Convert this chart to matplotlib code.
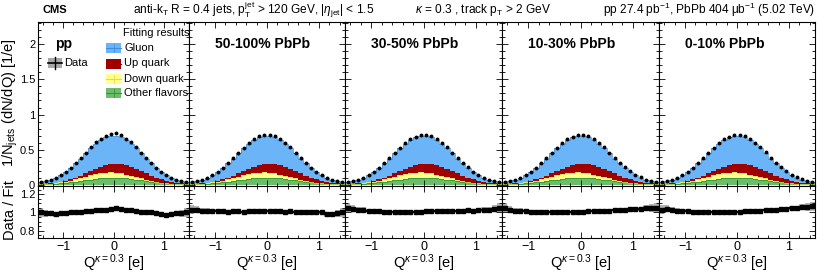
import matplotlib
matplotlib.use("Agg")
import matplotlib.pyplot as plt
import numpy as np
from matplotlib.patches import Rectangle
from matplotlib.lines import Line2D
from matplotlib.ticker import MultipleLocator, FixedLocator

plt.rcParams['font.family'] = ['Liberation Sans', 'DejaVu Sans']
plt.rcParams['mathtext.fontset'] = 'custom'
plt.rcParams['mathtext.rm'] = 'Liberation Sans'
plt.rcParams['mathtext.it'] = 'Liberation Sans:italic'
plt.rcParams['mathtext.bf'] = 'Liberation Sans:bold'

# ---------------- data ----------------
bin_edges = [-1.5, -1.4, -1.3, -1.2, -1.1, -1.0, -0.9, -0.8, -0.7, -0.6, -0.5,
             -0.4, -0.3, -0.2, -0.1, 0.0, 0.1, 0.2, 0.3, 0.4, 0.5,
             0.6, 0.7, 0.8, 0.9, 1.0, 1.1, 1.2, 1.3, 1.4, 1.5]

other_flavors = [0.003, 0.005, 0.008, 0.011, 0.016, 0.022, 0.030, 0.039, 0.050, 0.061,
                 0.072, 0.082, 0.090, 0.096, 0.100, 0.100, 0.096, 0.090, 0.082, 0.072,
                 0.061, 0.050, 0.039, 0.030, 0.022, 0.016, 0.011, 0.008, 0.005, 0.003]
down_quark = [0.003, 0.004, 0.007, 0.010, 0.015, 0.021, 0.028, 0.037, 0.045, 0.054,
              0.063, 0.069, 0.074, 0.075, 0.074, 0.069, 0.063, 0.054, 0.045, 0.037,
              0.028, 0.021, 0.015, 0.010, 0.007, 0.004, 0.003, 0.002, 0.001, 0.001]
up_quark = [0.001, 0.001, 0.002, 0.004, 0.006, 0.010, 0.015, 0.022, 0.032, 0.044,
            0.058, 0.074, 0.090, 0.106, 0.119, 0.129, 0.134, 0.134, 0.129, 0.119,
            0.106, 0.090, 0.074, 0.058, 0.044, 0.032, 0.022, 0.015, 0.010, 0.006]
gluon = [0.024, 0.037, 0.052, 0.073, 0.099, 0.130, 0.166, 0.205, 0.245, 0.288,
         0.327, 0.359, 0.384, 0.400, 0.404, 0.399, 0.384, 0.360, 0.328, 0.292,
         0.252, 0.211, 0.175, 0.141, 0.110, 0.084, 0.062, 0.044, 0.031, 0.021]

panel_labels = ["pp", "50-100% PbPb", "30-50% PbPb", "10-30% PbPb", "0-10% PbPb"]

ratio_pp = [1.00, 0.99, 0.99, 0.98, 0.99, 0.99, 1.00, 1.00, 1.01, 1.02,
            1.02, 1.03, 1.03, 1.03, 1.04, 1.05, 1.04, 1.03, 1.03, 1.02,
            1.01, 1.01, 1.00, 0.99, 0.98, 0.97, 0.98, 0.99, 0.99, 1.00]
ratio_50_100 = [1.03, 1.03, 1.02, 1.02, 1.02, 1.02, 1.02, 1.01, 1.02, 1.02,
                1.01, 1.02, 1.02, 1.02, 1.02, 1.02, 1.02, 1.02, 1.01, 1.02,
                1.01, 1.01, 1.01, 1.01, 1.00, 1.00, 0.98, 0.98, 0.99, 1.00]
ratio_30_50 = [1.05, 1.04, 1.03, 1.03, 1.02, 1.02, 1.02, 1.01, 1.01, 1.01,
               1.01, 1.01, 1.01, 1.01, 1.01, 1.02, 1.02, 1.02, 1.02, 1.02,
               1.02, 1.02, 1.02, 1.03, 1.02, 1.03, 1.03, 1.03, 1.04, 1.05]
ratio_10_30 = [1.05, 1.03, 1.02, 1.02, 1.02, 1.01, 1.01, 1.01, 1.01, 1.01,
               1.01, 1.01, 1.01, 1.01, 1.01, 1.01, 1.02, 1.02, 1.02, 1.02,
               1.02, 1.03, 1.03, 1.03, 1.04, 1.04, 1.04, 1.05, 1.05, 1.05]
ratio_0_10 = [1.03, 1.04, 1.03, 1.02, 1.02, 1.02, 1.01, 1.01, 1.01, 1.01,
              1.01, 1.01, 1.01, 1.01, 1.01, 1.01, 1.02, 1.02, 1.02, 1.02,
              1.03, 1.03, 1.03, 1.04, 1.04, 1.05, 1.05, 1.06, 1.06, 1.07]
ratios = [ratio_pp, ratio_50_100, ratio_30_50, ratio_10_30, ratio_0_10]

ratio_syst = [0.05, 0.04, 0.03, 0.025, 0.02, 0.015, 0.012, 0.01, 0.01, 0.01,
              0.01, 0.01, 0.01, 0.01, 0.01, 0.01, 0.01, 0.01, 0.01, 0.01,
              0.01, 0.01, 0.01, 0.012, 0.015, 0.02, 0.025, 0.03, 0.04, 0.05]

# ---------------- figure ----------------
W, H = 830, 274
fig = plt.figure(figsize=(W / 100, H / 100), dpi=100)

def fx(px):
    return px / W

def fy(py):
    return 1 - py / H

panel_x = [38, 189, 345, 502, 659, 815]
top_y0, top_y1 = 22, 186
rat_y1 = 238

c_gluon = '#6ab4f7'
c_gluon_e = '#3d8fe0'
c_up = '#a00000'
c_down = '#ffff8c'
c_down_e = '#e6d84a'
c_other = '#6cbc6c'
c_other_e = '#2f9a2f'

edges = np.array(bin_edges)
centers = 0.5 * (edges[1:] + edges[:-1])
oth = np.array(other_flavors)
dn = np.array(down_quark)
up = np.array(up_quark)
gl = np.array(gluon)
l1 = oth
l2 = l1 + dn
l3 = l2 + up
l4 = l3 + gl
syst = np.array(ratio_syst)

def style_ticks(ax, ymaj, ymin_):
    ax.tick_params(which='both', direction='in', top=True, right=True,
                   labelsize=8, pad=2)
    ax.tick_params(which='major', length=4.5, width=0.6)
    ax.tick_params(which='minor', length=2.3, width=0.6)
    ax.xaxis.set_major_locator(MultipleLocator(1))
    ax.xaxis.set_minor_locator(MultipleLocator(0.2))
    ax.yaxis.set_major_locator(FixedLocator(ymaj))
    ax.yaxis.set_minor_locator(MultipleLocator(ymin_))
    for s in ax.spines.values():
        s.set_linewidth(0.8)

for i in range(5):
    x0, x1 = panel_x[i], panel_x[i + 1]
    axt = fig.add_axes([fx(x0), fy(top_y1), fx(x1 - x0), (top_y1 - top_y0) / H])
    axr = fig.add_axes([fx(x0), fy(rat_y1), fx(x1 - x0), (rat_y1 - top_y1) / H])

    ratio = np.array(ratios[i])
    data = l4 * ratio

    axt.stairs(l1, edges, baseline=0, fill=True, color=c_other, lw=0)
    axt.stairs(l1, edges, baseline=None, color=c_other_e, lw=0.6)
    axt.stairs(l2, edges, baseline=l1, fill=True, color=c_down, lw=0)
    axt.stairs(l2, edges, baseline=None, color=c_down_e, lw=0.5)
    axt.stairs(l3, edges, baseline=l2, fill=True, color=c_up, lw=0)
    axt.stairs(l4, edges, baseline=l3, fill=True, color=c_gluon, lw=0)
    axt.stairs(l4, edges, baseline=None, color=c_gluon_e, lw=0.5)
    axt.errorbar(centers, data, yerr=0.006, fmt='o', ms=1.8,
                 color='black', elinewidth=0.6, capsize=0)
    axt.set_xlim(-1.5, 1.5)
    axt.set_ylim(-0.02, 2.32)
    style_ticks(axt, [0, 0.5, 1, 1.5, 2], 0.1)
    axt.set_xticklabels([])
    if i == 0:
        axt.set_yticklabels(['0', '0.5', '1', '1.5', '2'])
    else:
        axt.set_yticklabels([])

    axr.bar(centers, 2 * syst, bottom=ratio - syst, width=0.1,
            color='#b4b4b4', lw=0)
    axr.errorbar(centers, ratio, xerr=0.05, yerr=0.006, fmt='s', ms=2.6,
                 color='black', elinewidth=1.6, capsize=0)
    axr.set_xlim(-1.5, 1.5)
    axr.set_ylim(0.72, 1.29)
    style_ticks(axr, [0.8, 1.0, 1.2], 0.05)
    axr.set_xticks([-1, 0, 1])
    axr.set_xticklabels(['\u22121', '0', '1'], fontsize=9)
    if i == 0:
        axr.set_yticklabels(['0.8', '1', '1.2'])
    else:
        axr.set_yticklabels([])
    fig.text(fx(0.5 * (x0 + x1)), fy(263), r'Q$^{\kappa\mathrm{=0.3}}$ [e]',
             fontsize=10.5, ha='center', va='center')

    if i == 0:
        fig.text(fx(55), fy(44), panel_labels[i], fontsize=10, fontweight='bold',
                 ha='left', va='center')
    else:
        fig.text(fx(x0 + 26), fy(44), panel_labels[i], fontsize=10,
                 fontweight='bold', ha='left', va='center')

# ---------------- header ----------------
fig.text(fx(42), fy(10), 'CMS', fontsize=8, fontweight='bold', ha='left', va='center')
fig.text(fx(133), fy(10),
         r'anti-k$_{\mathrm{T}}$ R = 0.4 jets, p$_{\mathrm{T}}^{\mathrm{jet}}$ > 120 GeV, |$\eta_{\mathrm{jet}}$| < 1.5',
         fontsize=8.6, ha='left', va='center')
fig.text(fx(415), fy(10), r'$\kappa$ = 0.3 , track p$_{\mathrm{T}}$ > 2 GeV',
         fontsize=8.6, ha='left', va='center')
fig.text(fx(815), fy(10), r'pp 27.4 pb$^{-1}$, PbPb 404 $\mathrm{\mu}$b$^{-1}$ (5.02 TeV)',
         fontsize=8.6, ha='right', va='center')

# ---------------- y labels ----------------
fig.text(fx(10), fy(38), r'1/N$_{\mathrm{jets}}$ (dN/dQ) [1/e]', fontsize=10.5,
         rotation=90, ha='center', va='top')
fig.text(fx(10), fy(210), 'Data / Fit', fontsize=10.5, rotation=90,
         ha='center', va='center')

# ---------------- legend ----------------
fig.text(fx(123), fy(33), 'Fitting results', fontsize=8, ha='left', va='center')
leg = [('Gluon', c_gluon, c_gluon_e, 48),
       ('Up quark', c_up, c_up, 63.5),
       ('Down quark', c_down, c_down_e, 78.5),
       ('Other flavors', c_other, c_other_e, 93)]
for name, fc, ec, yc in leg:
    fig.patches.append(Rectangle((fx(106), fy(yc + 5)), fx(15), 10 / H,
                                 facecolor=fc, edgecolor='none',
                                 transform=fig.transFigure, figure=fig))
    fig.lines.append(Line2D([fx(106), fx(121)], [fy(yc), fy(yc)], color=ec,
                            lw=0.8, transform=fig.transFigure, figure=fig))
    fig.lines.append(Line2D([fx(113.5), fx(113.5)], [fy(yc - 4), fy(yc + 4)], color=ec,
                            lw=0.6, transform=fig.transFigure, figure=fig))
    fig.text(fx(124), fy(yc), name, fontsize=8, ha='left', va='center')

# Data legend entry
fig.patches.append(Rectangle((fx(48), fy(68)), fx(14), 10 / H,
                             facecolor='#a8a8a8', edgecolor='none',
                             transform=fig.transFigure, figure=fig))
fig.lines.append(Line2D([fx(48), fx(62)], [fy(63), fy(63)], color='black',
                        lw=1.2, transform=fig.transFigure, figure=fig))
fig.lines.append(Line2D([fx(55), fx(55)], [fy(57), fy(69)], color='black',
                        lw=1.0, transform=fig.transFigure, figure=fig))
fig.text(fx(64), fy(63), 'Data', fontsize=8, ha='left', va='center')

fig.savefig('out.png', dpi=100)
